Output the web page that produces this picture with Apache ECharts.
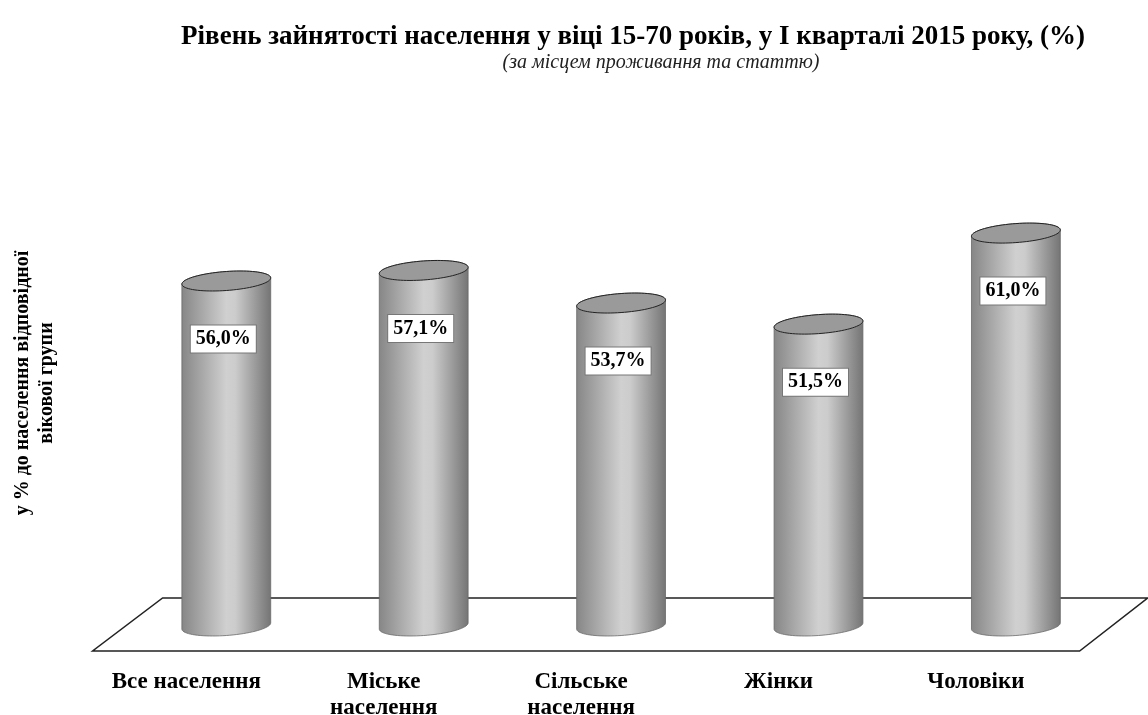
<!DOCTYPE html>
<html>
<head>
<meta charset="utf-8">
<script src="https://cdn.jsdelivr.net/npm/echarts@6/dist/echarts.min.js"></script>
<style>
  html, body { margin: 0; padding: 0; background: #fff; }
  #chart { width: 1148px; height: 715px; }
</style>
</head>
<body>
<div id="chart"></div>
<script>
// дані
const categories = ['Все населення', 'Міське\nнаселення', 'Сільське\nнаселення', 'Жінки', 'Чоловіки'];
const values = [56.0, 57.1, 53.7, 51.5, 61.0];
const yMin = 20;
const yMax = 80;

const titleText = 'Рівень зайнятості населення у віці 15-70 років, у І кварталі 2015 року, (%)';
const subtitleText = '(за місцем проживання та статтю)';
const yName = 'у % до населення відповідної\nвікової групи';

const serif = '"Liberation Serif", "DejaVu Serif", serif';

function fmt(v) {
    return v.toFixed(1).replace('.', ',') + '%';
}

var chart = echarts.init(document.getElementById('chart'));

// циліндр
function renderCylinder(params, api) {
    var idx = api.value(0);
    var top = api.coord([idx, api.value(1)]);
    var base = api.coord([idx, yMin]);
    var rx = api.size([1, 0])[0] * 0.45 / 2;
    var ry = 9.5;
    var k = -0.07;
    var cx = top[0];
    function pt(cy, t) {
        return [cx + rx * Math.cos(t), cy + ry * Math.sin(t) + k * rx * Math.cos(t)];
    }
    var body = [];
    body.push(pt(top[1], Math.PI));
    for (var i = 0; i <= 40; i++) {
        body.push(pt(base[1], Math.PI - Math.PI * i / 40));
    }
    for (var j = 0; j <= 40; j++) {
        body.push(pt(top[1], -Math.PI * j / 40));
    }
    var cap = [];
    for (var m = 0; m < 80; m++) {
        cap.push(pt(top[1], Math.PI * 2 * m / 80));
    }
    return {
        type: 'group',
        children: [
            {
                type: 'polygon',
                shape: { points: body },
                style: {
                    fill: new echarts.graphic.LinearGradient(0, 0, 1, 0, [
                        { offset: 0, color: '#868686' },
                        { offset: 0.5, color: '#d0d0d0' },
                        { offset: 0.6, color: '#cccccc' },
                        { offset: 1, color: '#747474' }
                    ]),
                    stroke: '#6a6a6a',
                    lineWidth: 0.8
                }
            },
            {
                type: 'polygon',
                shape: { points: cap },
                style: { fill: '#9a9a9a', stroke: '#222', lineWidth: 1 }
            },
            {
                type: 'text',
                x: cx - 3,
                y: top[1] + 58,
                style: {
                    text: fmt(api.value(1)),
                    align: 'center',
                    verticalAlign: 'middle',
                    font: 'bold 20px ' + serif,
                    fill: '#000',
                    backgroundColor: '#fff',
                    borderColor: '#777',
                    borderWidth: 1,
                    padding: [4, 5, 3, 5]
                }
            }
        ]
    };
}

// підлога
function renderFloor(params, api) {
    var cs = params.coordSys;
    var axisY = cs.y + cs.height;
    var pts = [
        [cs.x + 35, axisY - 28],
        [cs.x + cs.width + 33, axisY - 28],
        [cs.x + cs.width - 35, axisY + 25],
        [cs.x - 35, axisY + 25]
    ];
    return {
        type: 'polygon',
        shape: { points: pts },
        style: { fill: '#fff', stroke: '#222', lineWidth: 1.5 }
    };
}

var option = {
    backgroundColor: '#fff',
    animation: false,
    grid: { left: 127.6, right: 33.4, top: 51, bottom: 89, outerBoundsMode: 'none', containLabel: false },
    graphic: [
        {
            type: 'text', x: 633, y: 37,
            style: { text: titleText, align: 'center', verticalAlign: 'middle', font: 'bold 27px ' + serif, fill: '#000' }
        },
        {
            type: 'text', x: 661, y: 63,
            style: { text: subtitleText, align: 'center', verticalAlign: 'middle', font: 'italic 20px ' + serif, fill: '#222' }
        },
        {
            type: 'text', x: 35, y: 383, rotation: Math.PI / 2,
            style: { text: yName, align: 'center', verticalAlign: 'middle', font: 'bold 20px ' + serif, lineHeight: 24, fill: '#000' }
        }
    ],
    xAxis: {
        type: 'category',
        data: categories,
        axisLine: { show: false },
        axisTick: { show: false },
        axisLabel: {
            margin: 43,
            fontFamily: serif,
            fontWeight: 'bold',
            fontSize: 23,
            lineHeight: 26,
            color: '#000',
            padding: [0, 80, 0, 0],
            interval: 0
        }
    },
    yAxis: { type: 'value', min: yMin, max: yMax, show: false },
    series: [
        {
            type: 'custom',
            renderItem: renderFloor,
            data: [[0]],
            z: 1,
            silent: true
        },
        {
            type: 'custom',
            renderItem: renderCylinder,
            data: values.map(function (v, i) { return [i, v]; }),
            z: 2
        }
    ]
};

chart.setOption(option);
</script>
</body>
</html>
